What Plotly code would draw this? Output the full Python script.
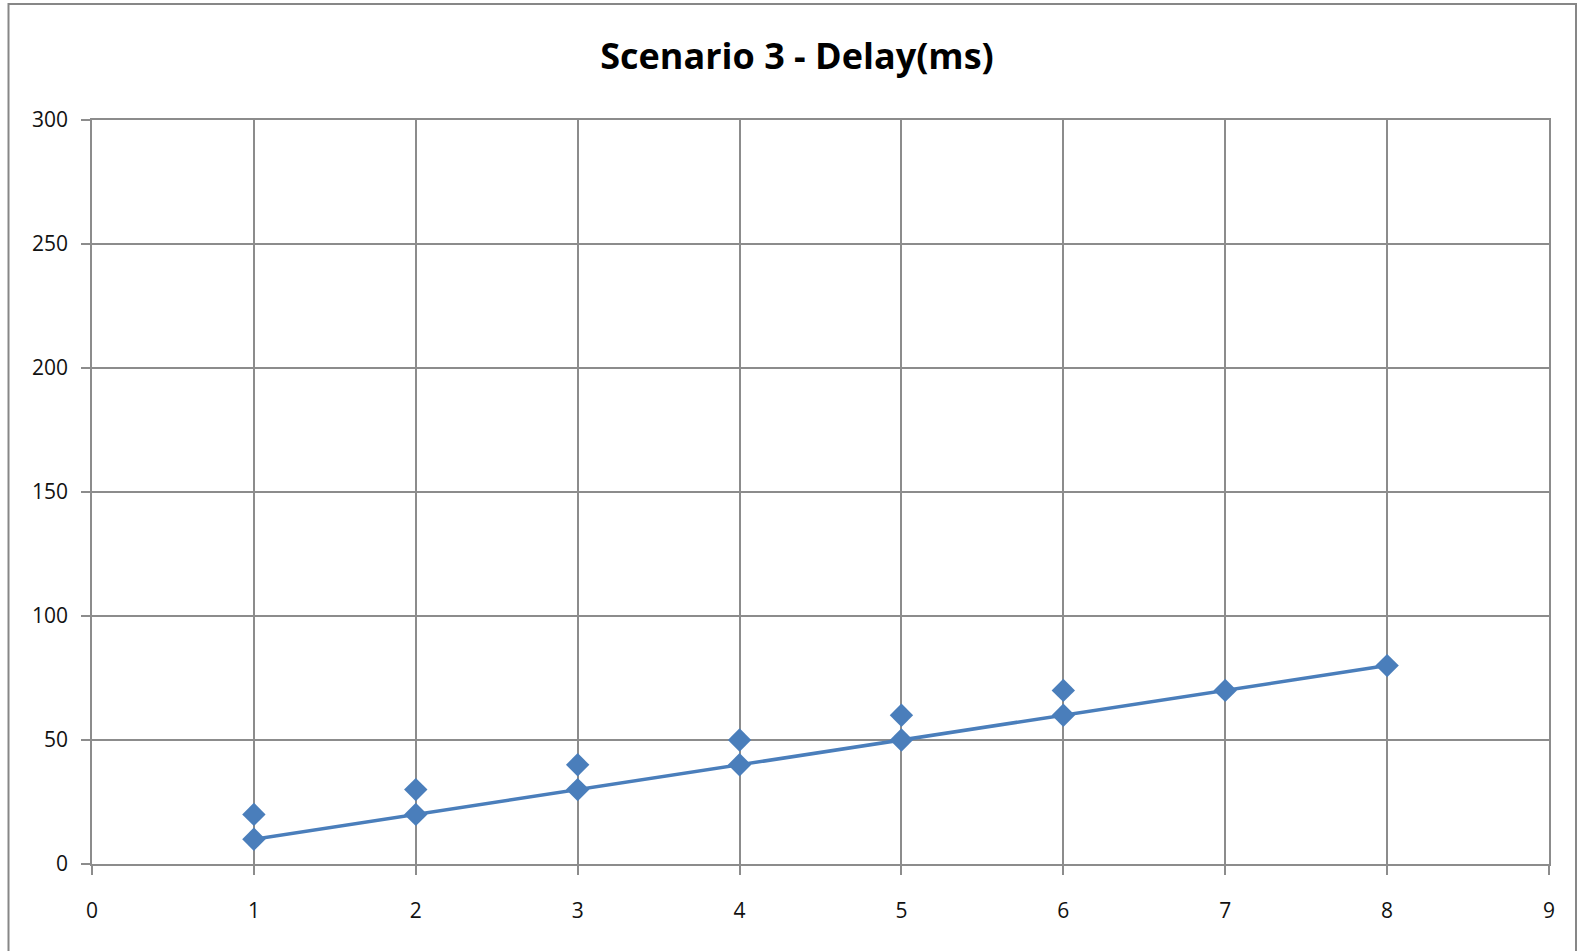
import plotly.graph_objects as go

# Delay measurements per run
runs = [1, 2, 3, 4, 5, 6, 7, 8]
delay_ms = [10, 20, 30, 40, 50, 60, 70, 80]
runs_b = [1, 2, 3, 4, 5, 6]
delay_b_ms = [20, 30, 40, 50, 60, 70]

W, H = 1577, 951
L, R, T, B = 92, 1549, 120, 864

blue = "#4A7EBB"
grid = "#8C8C8C"
tick_font = dict(family="Open Sans, sans-serif", size=21, color="#111111")

fig = go.Figure()
fig.add_trace(go.Scatter(
    x=runs, y=delay_ms, mode="lines+markers",
    line=dict(color=blue, width=3.5),
    marker=dict(symbol="diamond", size=18, color=blue),
    showlegend=False,
))
fig.add_trace(go.Scatter(
    x=runs_b, y=delay_b_ms, mode="markers",
    marker=dict(symbol="diamond", size=18, color=blue),
    showlegend=False,
))

axis_common = dict(
    showgrid=True, gridcolor=grid, gridwidth=1.5,
    showline=True, linecolor=grid, linewidth=1.5, mirror=True,
    ticks="outside", ticklen=9, tickcolor=grid, tickwidth=1.5,
    zeroline=False, tickfont=tick_font,
)
fig.update_xaxes(range=[0, 9], dtick=1, tick0=0, ticklabelstandoff=18, **axis_common)
fig.update_yaxes(range=[0, 300], dtick=50, tick0=0, ticklabelstandoff=9, **axis_common)

# outer chart border
px = lambda v: (v - L) / (R - L)
py = lambda v: (B - v) / (B - T)
fig.add_shape(type="rect", xref="paper", yref="paper",
              x0=px(8.5), x1=px(1576), y0=py(960), y1=py(4),
              line=dict(color="#878787", width=2), fillcolor="rgba(0,0,0,0)", layer="below")

fig.update_layout(
    width=W, height=H,
    margin=dict(l=L, r=W - R, t=T, b=H - B),
    paper_bgcolor="white", plot_bgcolor="white",
    title=dict(text="<b>Scenario 3 - Delay(ms)</b>", xref="container", x=797 / W, xanchor="center",
               y=1 - 56 / H, yanchor="middle",
               font=dict(family="Open Sans, sans-serif", size=36, color="#000000")),
)

fig.write_html("out.html")
